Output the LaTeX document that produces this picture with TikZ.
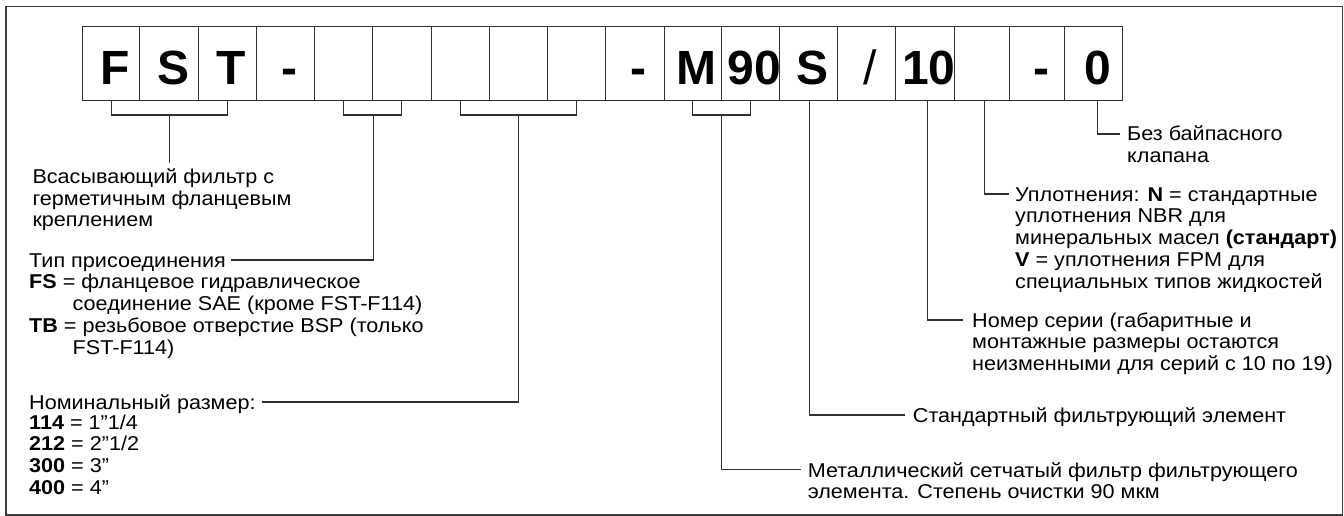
\documentclass[tikz,border=0pt]{standalone}
\usepackage{fontspec}
\setmainfont{Liberation Sans}
\newfontfamily\descfont{Liberation Sans}[FakeStretch=1.08]
\usetikzlibrary{calc}

\definecolor{linec}{HTML}{303030}
\definecolor{framec}{HTML}{3C3C3C}

% letter placed slightly right of the cell centre, without widening the cell
\newcommand{\celltext}[1]{\makebox[0pt]{\hspace{8pt}#1}}

\tikzset{
  cell/.style={draw=linec, line width=1.1pt, inner sep=0pt, anchor=north west,
    minimum height=74.3pt, text height=58.3pt, text depth=16pt,
    font=\fontsize{48}{50}\selectfont\bfseries},
  conn/.style={draw=linec, line width=1.1pt},
  % anchored at the baseline of the last line
  desc/.style={inner sep=0pt, anchor=base west, align=left,
    font=\descfont\fontsize{20}{21.8}\selectfont},
}

\begin{document}
\begin{tikzpicture}[x=1pt, y=-1pt]
\useasboundingbox (0,0) rectangle (1344,516);

% outer frame
\draw[framec, line width=1.6pt] (6,6.7) rectangle (1342.3,515);

% ordering code cells
\node[cell, minimum width=57.6pt] (b1)  at (81.7,25.7)  {\celltext{F}};
\node[cell, minimum width=58.4pt] (b2)  at (139.3,25.7) {\celltext{S}};
\node[cell, minimum width=58.3pt] (b3)  at (197.7,25.7) {\celltext{T}};
\node[cell, minimum width=58pt]   (b4)  at (256,25.7)   {\celltext{-}};
\node[cell, minimum width=58pt]   (b5)  at (314,25.7)   {\celltext{}};
\node[cell, minimum width=58.6pt] (b6)  at (372,25.7)   {\celltext{}};
\node[cell, minimum width=58.4pt] (b7)  at (430.6,25.7) {\celltext{}};
\node[cell, minimum width=58pt]   (b8)  at (489,25.7)   {\celltext{}};
\node[cell, minimum width=58pt]   (b9)  at (547,25.7)   {\celltext{}};
\node[cell, minimum width=58.5pt] (b10) at (605,25.7)   {\celltext{-}};
\node[cell, minimum width=57.2pt] (b11) at (663.5,25.7) {\celltext{M}};
\node[cell, minimum width=58.3pt] (b12) at (720.7,25.7) {\celltext{90}};
\node[cell, minimum width=58pt]   (b13) at (779,25.7)   {\celltext{S}};
\node[cell, minimum width=57.6pt] (b14) at (837,25.7)   {\celltext{\mdseries /}};
\node[cell, minimum width=59.4pt] (b15) at (894.6,25.7) {\celltext{10}};
\node[cell, minimum width=55pt]   (b16) at (954,25.7)   {\celltext{}};
\node[cell, minimum width=55pt]   (b17) at (1009,25.7)  {\celltext{-}};
\node[cell, minimum width=58.3pt] (b18) at (1064,25.7)  {\celltext{0}};

% left-hand descriptions
\node[desc] (tA) at (32.3,226.9)
  {Всасывающий фильтр с\\герметичным фланцевым\\креплением};
\node[desc] (tBh) at (29,267) {Тип присоединения};
\node[desc] (tB) at (29,354)
  {\textbf{FS} = фланцевое гидравлическое\\
   \hspace*{43.5pt}соединение SAE (кроме FST-F114)\\
   \textbf{TB} = резьбовое отверстие BSP (только\\
   \hspace*{43.5pt}FST-F114)};
\node[desc] (tCh) at (29,409) {Номинальный размер:};
\node[desc] (tC) at (29,494.4)
  {\textbf{114} = 1”1/4\\\textbf{212} = 2”1/2\\\textbf{300} = 3”\\\textbf{400} = 4”};

% right-hand descriptions
\node[desc] (tD) at (1127,162.8) {Без байпасного\\клапана};
\node[desc] (tE) at (1015,288.2)
  {Уплотнения: \textbf{N} = стандартные\\
   уплотнения NBR для\\
   минеральных масел \textbf{(стандарт)}\\
   \textbf{V} = уплотнения FPM для\\
   специальных типов жидкостей};
\node[desc] (tF) at (972,370.6)
  {Номер серии (габаритные и\\
   монтажные размеры остаются\\
   неизменными для серий с 10 по 19)};
\node[desc] (tG) at (912.7,422) {Стандартный фильтрующий элемент};
\node[desc] (tH) at (807.6,498.8)
  {Металлический сетчатый фильтр фильтрующего\\
   элемента. Степень очистки 90 мкм};

\def\by{115}

% FST
\draw[conn] (b1.south) |- (b3.south |- 0,\by) -- (b3.south);
\draw[conn] (b2.south |- 0,\by) -- ($(b2.south |- tA.north)+(0,-5)$);

% connection type
\draw[conn] (b5.south) |- (b6.south |- 0,\by) -- (b6.south);
\draw[conn] ([xshift=5pt,yshift=7pt]tBh.base east) -| (b5.south east |- 0,\by);

% nominal size
\draw[conn] (b7.south) |- (b9.south |- 0,\by) -- (b9.south);
\draw[conn] ([xshift=6pt,yshift=7pt]tCh.base east) -| (b8.south |- 0,\by);

% M90
\draw[conn] (b11.south) |- (b12.south |- 0,\by) -- (b12.south);
\draw[conn] (b11.south east |- 0,\by) |- ([xshift=-7pt,yshift=29.3pt]tH.base west);

% single-cell leaders (joined at the first text line)
\draw[conn] ([xshift=1pt]b13.south) |- ([xshift=-7.5pt,yshift=7pt]tG.base west);
\draw[conn] ([xshift=2.5pt]b15.south) |- ([xshift=-9pt,yshift=50.6pt]tF.base west);
\draw[conn] ([xshift=2pt]b16.south) |- ([xshift=-6pt,yshift=94.2pt]tE.base west);
\draw[conn] ([xshift=3.5pt]b18.south) |- ([xshift=-7pt,yshift=28.8pt]tD.base west);
\end{tikzpicture}
\end{document}
